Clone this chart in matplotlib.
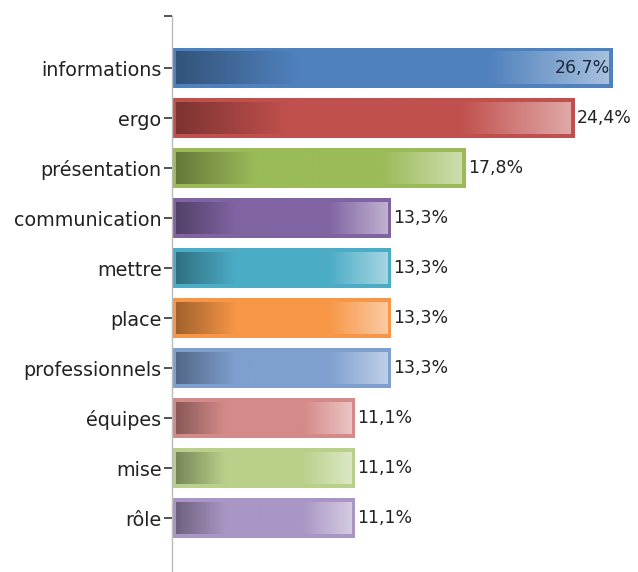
import matplotlib
matplotlib.use("Agg")
import matplotlib.pyplot as plt
import numpy as np
from matplotlib.colors import to_rgb

categories = ["informations", "ergo", "présentation", "communication", "mettre",
              "place", "professionnels", "équipes", "mise", "rôle"]
values = [26.7, 24.4, 17.8, 13.3, 13.3, 13.3, 13.3, 11.1, 11.1, 11.1]
labels = ["26,7%", "24,4%", "17,8%", "13,3%", "13,3%", "13,3%", "13,3%", "11,1%", "11,1%", "11,1%"]
colors = ["#4F81BD", "#C0504D", "#9BBB59", "#8064A2", "#4BACC6",
          "#F79646", "#7F9FCF", "#D48A88", "#B9D08A", "#A996C4"]

W, H = 638, 572
fig = plt.figure(figsize=(W / 100, H / 100), dpi=100)
ax_left, ax_top, ax_bottom = 172, 16, 572
ax = fig.add_axes([ax_left / W, 1 - ax_bottom / H, (W - ax_left) / W, (ax_bottom - ax_top) / H])

px_per_unit_y = 50.0
px_per_pct = 16.5
y_top = -(68 - ax_top) / px_per_unit_y
y_bot = 9 + (ax_bottom - 518) / px_per_unit_y
x_max = (W - ax_left) / px_per_pct

pos = np.arange(len(categories))
bar_h = 0.8
bars = ax.barh(pos, values, height=bar_h, color=colors, edgecolor="none", zorder=2)

def mix(c, other, t):
    c = np.array(to_rgb(c)); o = np.array(other)
    return c * (1 - t) + o * t

t = np.linspace(0, 1, 256)
dx = 4.0 / px_per_pct
dy = 4.0 / px_per_unit_y
for b, col in zip(bars, colors):
    base = np.array(to_rgb(col))
    dark = base * 0.65
    light = mix(col, (1, 1, 1), 0.5)
    stops = [(0.0, dark), (0.28, base), (0.72, base), (1.0, light)]
    grad = np.zeros((1, len(t), 3))
    for i, tv in enumerate(t):
        for (t0, c0), (t1, c1) in zip(stops[:-1], stops[1:]):
            if t0 <= tv <= t1:
                f = (tv - t0) / (t1 - t0)
                grad[0, i] = c0 * (1 - f) + c1 * f
                break
    x0 = b.get_x(); x1 = x0 + b.get_width()
    y0 = b.get_y(); y1 = y0 + b.get_height()
    ax.imshow(grad, extent=(x0 + dx, x1 - dx, y1 - dy, y0 + dy), aspect="auto",
              interpolation="bilinear", zorder=3)

for b, v, lab in zip(bars, values, labels):
    yc = b.get_y() + b.get_height() / 2
    if v > 25:
        ax.text(v - 3 / px_per_pct, yc, lab, ha="right", va="center", fontsize=12.5,
                color="#1a2a40", zorder=4)
    else:
        ax.text(v + 2 / px_per_pct, yc, lab, ha="left", va="center", fontsize=12.5,
                color="#222222", zorder=4)

ax.set_xlim(0, x_max)
ax.set_ylim(y_bot, y_top)
ax.set_yticks(pos)
ax.set_yticklabels(categories, fontsize=13.8, color="#222222")
ax.set_yticks([y_top], minor=True)
ax.tick_params(axis="y", which="both", length=6, width=1.2, color="#333333", pad=1.5)
ax.set_xticks([])
for s in ["top", "right", "bottom"]:
    ax.spines[s].set_visible(False)
ax.spines["left"].set_color("#bbbbbb")
ax.spines["left"].set_linewidth(1)

fig.savefig("out.png", dpi=100)
